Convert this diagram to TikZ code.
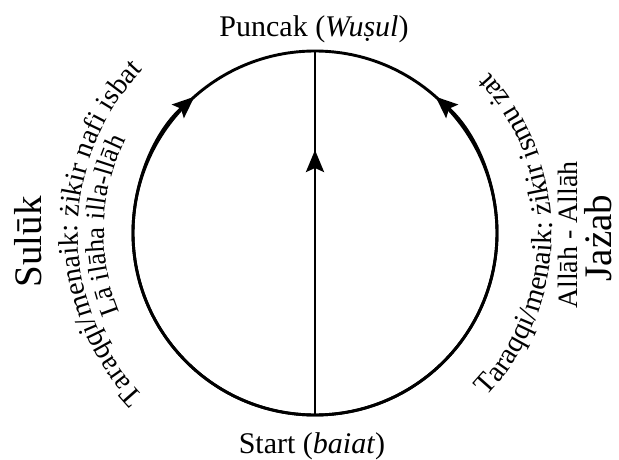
\documentclass[tikz,border=0pt]{standalone}
\usepackage{fontspec}
\setmainfont{Liberation Serif}
\usetikzlibrary{arrows.meta,decorations.text}
\begin{document}
\begin{tikzpicture}[x=1pt,y=1pt,
  ring/.style={line width=2.9pt},
  tip/.style={-{Stealth[length=22pt,width=18pt,inset=4pt]}},
  lbl/.style={font=\fontsize{30}{30}\selectfont, anchor=base, inner sep=0pt},
  side/.style={font=\fontsize{39}{39}\selectfont, rotate=90, anchor=base, inner sep=0pt},
  zik/.style={font=\fontsize{28}{28}\selectfont, rotate=90, anchor=base, inner sep=0pt}]
\useasboundingbox (0,0) rectangle (619,459);
\fill[white] (0,0) rectangle (619,459);
\coordinate (C) at (315,226);
\coordinate (B) at (315,44);
\coordinate (T) at (315,408);
\coordinate (M) at (315,309);
% circle and arrows
\draw[ring] (C) circle (182pt);
\draw[ring,tip] (B) arc[start angle=270, end angle=131.5, radius=182pt];
\draw[ring,tip] (B) arc[start angle=270, end angle=408.5, radius=182pt];
\draw[ring] (B) -- (T);
\draw[ring,tip] (B) -- (M);
% labels
\node[lbl] (top) at (314,422) {Puncak (\textit{Wuṣul})};
\node[lbl] (bot) at (312,6) {Start (\textit{baiat})};
\node[side] (suluk) at (42,217) {Sulūk};
\node[side] (jazab) at (611,221) {Jażab};
\node[zik] (allah) at (577,224) {Allāh - Allāh};
% curved texts
\path[decorate, decoration={text along path, text align=center,
  text={|\fontsize{28.5}{30}\selectfont|Taraqqi/menaik: żikir nafi isbat}}]
  (C) ++(235:237pt) arc[start angle=235, end angle=125, radius=237pt];
\path[decorate, decoration={text along path, text align=center,
  text={|\fontsize{27}{28}\selectfont|Lā ilāha illa-llāh}}]
  (C) ++(215:211pt) arc[start angle=215, end angle=141, radius=211pt];
\path[decorate, decoration={text along path, text align=center,
  text={|\fontsize{29}{30}\selectfont|Taraqqi/menaik: żikir ismu żat}}]
  (C) ++(-58:237pt) arc[start angle=-58, end angle=57, radius=237pt];
\end{tikzpicture}
\end{document}
